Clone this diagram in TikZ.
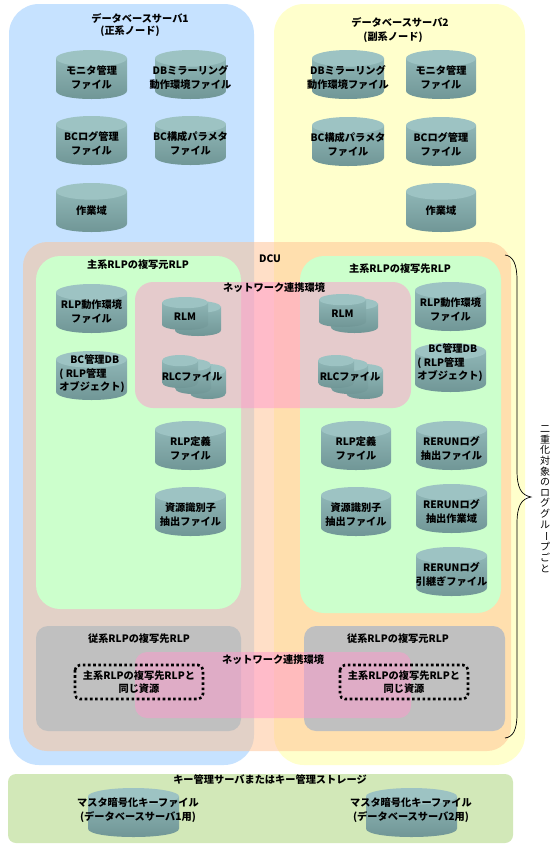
\documentclass[tikz,border=0pt]{standalone}
\usepackage{graphicx}
\usepackage{fontspec}
\setmainfont{Noto Sans CJK JP}
\definecolor{srvA}{HTML}{C6E2FF}
\definecolor{srvB}{HTML}{FFFFCC}
\definecolor{dcuc}{RGB}{255,193,145}
\definecolor{rlpg}{HTML}{CCFFCC}
\definecolor{grayb}{HTML}{C0C0C0}
\definecolor{netp}{RGB}{255,153,204}
\definecolor{keyb}{HTML}{D2E8B8}
\definecolor{cyltop}{HTML}{9DC3C3}
\definecolor{cylhi}{HTML}{8FB6B6}
\definecolor{cyllo}{HTML}{6E9494}
\tikzset{
  region/.style={rounded corners=#1},
  lab/.style={font=\bfseries\fontsize{10.2}{13.5}\selectfont,align=center,inner sep=0pt,text=black},
  dotbox/.style={draw=black,line width=2.6pt,dash pattern=on 2.6pt off 2.6pt,rounded corners=5pt},
  cylnode/.style={lab},
}
% name, x1, y1, x2, y2, text
\newcommand\cylshape[4]{%
  \pgfmathsetmacro\cxx{(#1+#3)/2}%
  \pgfmathsetmacro\rxx{(#3-#1)/2}%
  \pgfmathsetmacro\ryy{min(8.5,(#4-#2)*0.17)}%
  \pgfmathsetmacro\ya{#2+\ryy}%
  \pgfmathsetmacro\yb{#4-\ryy}%
  \pgfmathsetmacro\yc{#4+\ryy/3}%
  \path[top color=cylhi,bottom color=cyllo]
    (#1,\ya) -- (#1,\yb) .. controls (#1,\yc) and (#3,\yc) .. (#3,\yb) -- (#3,\ya) -- cycle;
  \fill[cyltop] (\cxx,\ya) ellipse [x radius=\rxx pt,y radius=\ryy pt];
}
\newcommand\cyl[6]{%
  \cylshape{#2}{#3}{#4}{#5}%
  \pgfmathsetmacro\cyy{(#3+#5)/2+3}%
  \node[cylnode] (#1) at ({(#2+#4)/2},\cyy) {#6};
}
\begin{document}
\begin{tikzpicture}[x=1pt,y=-1pt]
\useasboundingbox (0,0) rectangle (559,847);
\fill[white] (0,0) rectangle (559,847);
% servers
\fill[srvA,region=30pt] (9,4) rectangle (254,765);
\fill[srvB,region=30pt] (274,4) rectangle (525,765);
\node[lab] (s1a) at (140,18) {データベースサーバ1};
\node[lab] (s1b) at (130,31) {(正系ノード)};
\node[lab] (s2a) at (400,22) {データベースサーバ2};
\node[lab] (s2b) at (393,37) {(副系ノード)};
% DCU
\fill[dcuc,opacity=.5,region=24pt] (23,242) rectangle (511,751);
\node[lab] (dcu) at (270,259) {DCU};
% RLP areas
\fill[rlpg,region=24pt] (36,256) rectangle (241,609);
\fill[rlpg,region=24pt] (300,256) rectangle (501,613);
\node[lab] (ga) at (138,265) {主系RLPの複写元RLP};
\node[lab] (gb) at (400,269) {主系RLPの複写先RLP};
% gray areas
\fill[grayb,region=12pt] (36,626) rectangle (241,731);
\fill[grayb,region=12pt] (304,626) rectangle (505,731);
\node[lab] (ka) at (139,639) {従系RLPの複写先RLP};
\node[lab] (kb) at (398,639) {従系RLPの複写元RLP};
% network areas
\fill[netp,opacity=.5,region=18pt] (135,282) rectangle (411,408);
\fill[netp,opacity=.5,region=12pt] (135,652) rectangle (411,718);
\node[lab] (n1) at (274,288) {ネットワーク連携環境};
\node[lab] (n2) at (273,660) {ネットワーク連携環境};
% dotted
\draw[dotbox] (75,665) rectangle (203,699);
\draw[dotbox] (340,665) rectangle (468,699);
\node[lab] (d1) at (139,682) {主系RLPの複写先RLPと\\同じ資源};
\node[lab] (d2) at (404,682) {主系RLPの複写先RLPと\\同じ資源};
% server 1 cylinders
\cyl{a1}{56}{50}{127}{99}{モニタ管理\\ファイル}
\cyl{a2}{155}{50}{226}{99}{DBミラーリング\\動作環境ファイル}
\cyl{a3}{56}{116}{127}{165}{BCログ管理\\ファイル}
\cyl{a4}{155}{116}{226}{165}{BC構成パラメタ\\ファイル}
\cyl{a5}{56}{183}{127}{232}{作業域}
% server 2 cylinders
\cyl{b1}{312}{50}{384}{99}{DBミラーリング\\動作環境ファイル}
\cyl{b2}{406}{50}{476}{99}{モニタ管理\\ファイル}
\cyl{b3}{312}{117}{384}{166}{BC構成パラメタ\\ファイル}
\cyl{b4}{406}{117}{476}{166}{BCログ管理\\ファイル}
\cyl{b5}{406}{183}{476}{232}{作業域}
% left RLP
\cyl{c1}{56}{284}{127}{333}{RLP動作環境\\ファイル}
\cylshape{56}{351}{127}{400}
\node[lab,align=left] (c2) at (92,374) {\hspace*{11pt}BC管理DB\\( RLP管理\\オブジェクト)};
\cyl{c3}{155}{421}{226}{470}{RLP定義\\ファイル}
\cyl{c4}{155}{487}{226}{536}{資源識別子\\抽出ファイル}
% left network
\cylshape{175}{301}{221}{336}
\cyl{rl}{162}{297}{208}{330}{RLM}
\cylshape{190}{364}{226}{399}
\cylshape{175}{359}{211}{394}
\cylshape{162}{355}{198}{388}
\node[lab] (rc) at (192,377) {RLCファイル};
% right network
\cylshape{331}{298}{378}{333}
\cyl{rr}{319}{294}{366}{327}{RLM}
\cylshape{346}{364}{383}{399}
\cylshape{331}{359}{368}{394}
\cylshape{318}{355}{354}{388}
\node[lab] (rd) at (350,377) {RLCファイル};
% right RLP
\cyl{e1}{415}{282}{486}{331}{RLP動作環境\\ファイル}
\cylshape{415}{343}{486}{392}
\node[lab,align=left] (e2) at (450,363) {\hspace*{11pt}BC管理DB\\( RLP管理\\オブジェクト)};
\cyl{e3}{321}{421}{391}{470}{RLP定義\\ファイル}
\cyl{e4}{321}{487}{391}{536}{資源識別子\\抽出ファイル}
\cyl{e5}{416}{421}{487}{470}{RERUNログ\\抽出ファイル}
\cyl{e6}{416}{484}{487}{533}{RERUNログ\\抽出作業域}
\cyl{e7}{416}{547}{487}{596}{RERUNログ\\引継ぎファイル}
% key box
\fill[keyb,region=8pt] (8,774) rectangle (513,843);
\node[lab] (kt) at (270,780) {キー管理サーバまたはキー管理ストレージ};
\cylshape{88}{788}{179}{837}
\node[lab] (k1) at (138,810) {マスタ暗号化キーファイル\\(データベースサーバ1用)};
\cylshape{366}{788}{457}{837}
\node[lab] (k2) at (411,810) {マスタ暗号化キーファイル\\(データベースサーバ2用)};
% brace
\coordinate (bt) at (505,255);
\coordinate (bm) at (531,497);
\coordinate (bb) at (505,738);
\draw[black,line width=.7pt] (bt) .. controls (513,256) and (517,264) .. (517,280)
  -- (517,470) .. controls (517,488) and (521,495) .. (bm)
  .. controls (521,499) and (517,506) .. (517,524)
  -- (517,714) .. controls (517,730) and (513,737) .. (bb);
\node[inner sep=0pt,align=center,font=\fontsize{10}{10.6}\selectfont] (vt) at (545,499)
 {二\\重\\化\\対\\象\\の\\ロ\\グ\\グ\\ル\\\rotatebox[origin=c]{-90}{ー}\\プ\\ご\\と};
\end{tikzpicture}
\end{document}
